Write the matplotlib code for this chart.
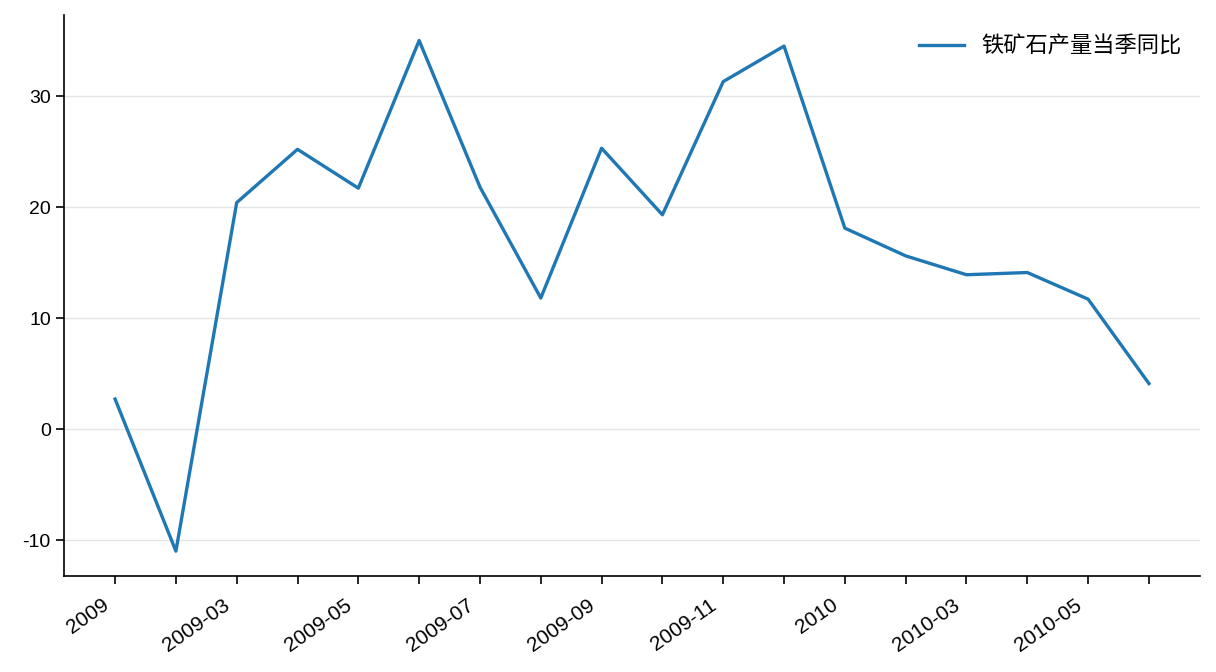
import matplotlib
matplotlib.use("Agg")
import matplotlib.pyplot as plt
import matplotlib.transforms as mtransforms

months = ["2009-01", "2009-02", "2009-03", "2009-04", "2009-05", "2009-06",
          "2009-07", "2009-08", "2009-09", "2009-10", "2009-11", "2009-12",
          "2010-01", "2010-02", "2010-03", "2010-04", "2010-05", "2010-06"]
values = [2.7, -11.0, 20.4, 25.2, 21.7, 35.0, 21.8, 11.8, 25.3, 19.3, 31.3, 34.5,
          18.1, 15.6, 13.9, 14.1, 11.7, 4.1]
series_name = "铁矿石产量当季同比"

plt.rcParams['font.family'] = ['Liberation Sans', 'Noto Sans CJK SC', 'DejaVu Sans']
plt.rcParams['axes.unicode_minus'] = False

x = list(range(len(months)))

fig = plt.figure(figsize=(12.16, 6.72), dpi=100)
ax = fig.add_axes([64/1216, 1 - 576/672, (1200-64)/1216, (576-15)/672])
ax.plot(x, values, color='#1f77b4', linewidth=2.4, label=series_name)

ax.set_xlim(-0.84, 17.84)
ax.set_ylim(-13.24, 37.3)
ax.set_yticks([-10, 0, 10, 20, 30])
ax.yaxis.grid(True, color='#e5e5e5', linewidth=1)
ax.set_axisbelow(True)

ax.set_xticks(x)
labels = []
for i, m in enumerate(months):
    if i % 2 == 0:
        labels.append(m[:4] if m.endswith("-01") else m)
    else:
        labels.append("")
ax.set_xticklabels(labels, rotation=35, ha='right')

for s in ['top', 'right']:
    ax.spines[s].set_visible(False)
for s in ['left', 'bottom']:
    ax.spines[s].set_linewidth(1.2)
ax.tick_params(axis='both', length=6, width=1.2)
ax.tick_params(axis='y', labelsize=14)
ax.tick_params(axis='x', labelsize=15, pad=8)

offset = mtransforms.ScaledTranslation(-3/100, 0, fig.dpi_scale_trans)
for lab in ax.get_xticklabels():
    lab.set_transform(lab.get_transform() + offset)

ax.legend(loc='upper right', frameon=False, bbox_to_anchor=(1.0015, 1.0),
          prop={'family': ['Noto Sans CJK SC', 'DejaVu Sans'], 'size': 16})

fig.savefig("out.png", dpi=100)
